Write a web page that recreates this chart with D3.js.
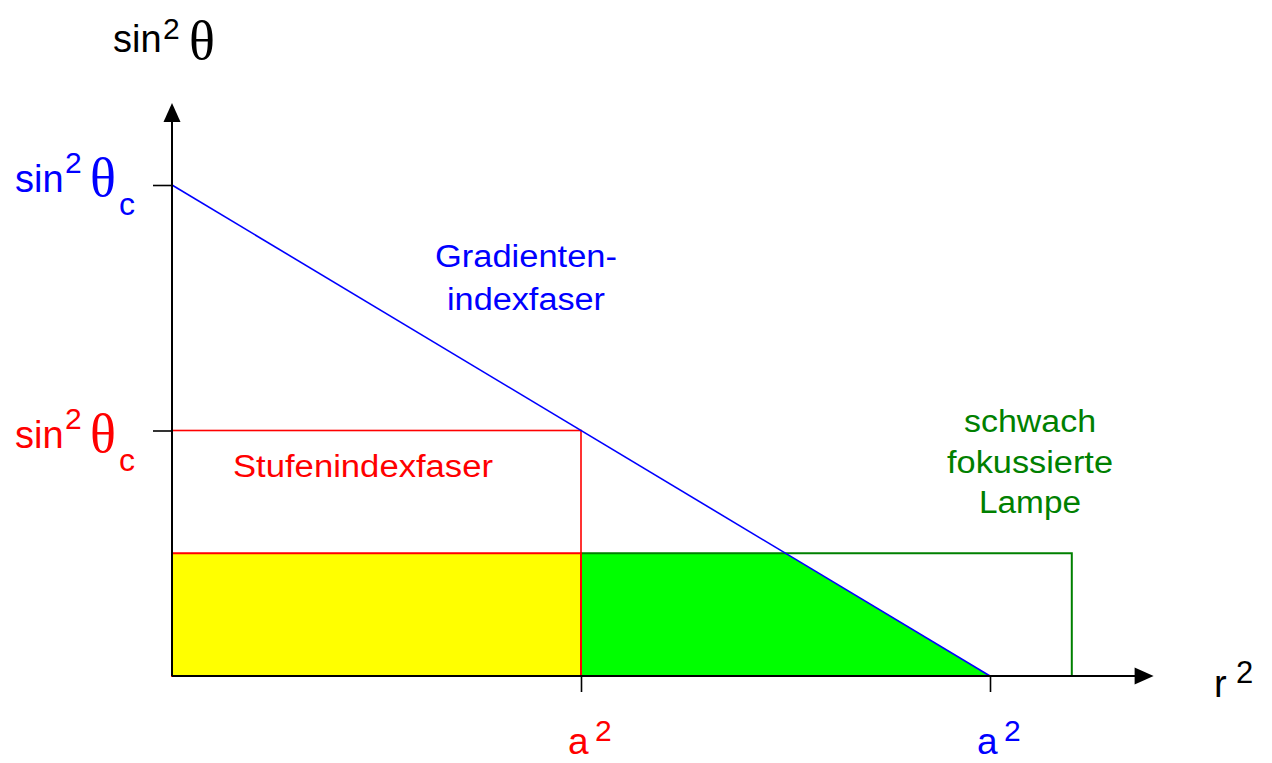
<!DOCTYPE html>
<html>
<head>
<meta charset="utf-8">
<script src="https://cdn.jsdelivr.net/npm/d3@7"></script>
<style>
  body { margin: 0; background: #fff; }
  svg { display: block; }
</style>
</head>
<body>
<script>
// values in normalized units: r^2 relative to a^2 of the graded fiber,
// sin^2 theta relative to sin^2 theta_c of the graded fiber
var gradCore = 1.0, gradNA = 1.0;     // Gradientenindexfaser
var stepCore = 0.5, stepNA = 0.5;     // Stufenindexfaser
var lampWidth = 1.1, lampNA = 0.25;   // schwach fokussierte Lampe
var gradLine = [[0, gradNA], [gradCore, 0]];
var xTickValues = [stepCore, gradCore];
var yTickValues = [stepNA, gradNA];

var sans = "'Liberation Sans', Arial, Helvetica, sans-serif";
var serif = "'Liberation Serif', 'Times New Roman', serif";

var W = 1272, H = 763;
var svg = d3.select("body").append("svg").attr("width", W).attr("height", H);

var x = d3.scaleLinear().domain([0, 1.2]).range([172, 1153.6]);
var y = d3.scaleLinear().domain([0, 1.167]).range([676, 103]);

// yellow region (step fiber accepts lamp light)
svg.append("rect")
  .attr("x", x(0)).attr("y", y(lampNA))
  .attr("width", x(stepCore) - x(0)).attr("height", y(0) - y(lampNA))
  .attr("fill", "#ffff00");

// green region: lamp light accepted by graded fiber beyond step core
var xCut = gradCore * (1 - lampNA / gradNA);
var greenPts = [[stepCore, 0], [stepCore, lampNA], [xCut, lampNA], [gradCore, 0]];
svg.append("path")
  .attr("d", d3.line().x(function(d) { return x(d[0]); }).y(function(d) { return y(d[1]); })(greenPts) + "Z")
  .attr("fill", "#00ff00");

// lamp outline
svg.append("rect")
  .attr("x", x(stepCore)).attr("y", y(lampNA))
  .attr("width", x(lampWidth) - x(stepCore)).attr("height", y(0) - y(lampNA))
  .attr("fill", "none").attr("stroke", "#008000").attr("stroke-width", 2);

// yellow border (red)
svg.append("rect")
  .attr("x", x(0)).attr("y", y(lampNA))
  .attr("width", x(stepCore) - x(0)).attr("height", y(0) - y(lampNA))
  .attr("fill", "none").attr("stroke", "#ff0000").attr("stroke-width", 2);

// step index fiber outline
svg.append("rect")
  .attr("x", x(0)).attr("y", y(stepNA))
  .attr("width", x(stepCore) - x(0)).attr("height", y(0) - y(stepNA))
  .attr("fill", "none").attr("stroke", "#ff0000").attr("stroke-width", 1.6);

// graded index line
svg.append("path")
  .attr("d", d3.line().x(function(d) { return x(d[0]); }).y(function(d) { return y(d[1]); })(gradLine))
  .attr("fill", "none").attr("stroke", "#0000ff").attr("stroke-width", 1.6);

// axes with ticks
var gx = svg.append("g").attr("transform", "translate(0," + y(0) + ")")
  .call(d3.axisBottom(x).tickValues(xTickValues).tickSize(16).tickFormat(""));
var gy = svg.append("g").attr("transform", "translate(" + x(0) + ",0)")
  .call(d3.axisLeft(y).tickValues(yTickValues).tickSize(19).tickFormat(""));
svg.selectAll(".domain").remove();
svg.selectAll(".tick line").attr("stroke", "#000").attr("stroke-width", 1.6);

var x0 = x(0), y0 = y(0), xEnd = x(1.2), yEnd = y(1.167);
svg.append("line").attr("x1", x0).attr("y1", y0).attr("x2", xEnd - 16).attr("y2", y0)
  .attr("stroke", "#000").attr("stroke-width", 2);
svg.append("line").attr("x1", x0).attr("y1", y0).attr("x2", x0).attr("y2", yEnd + 16)
  .attr("stroke", "#000").attr("stroke-width", 2);
svg.append("path")
  .attr("d", "M" + xEnd + "," + y0 + "L" + (xEnd - 19) + "," + (y0 - 8.5) + "L" + (xEnd - 19) + "," + (y0 + 8.5) + "Z")
  .attr("fill", "#000");
svg.append("path")
  .attr("d", "M" + x0 + "," + yEnd + "L" + (x0 - 8.5) + "," + (yEnd + 19) + "L" + (x0 + 8.5) + "," + (yEnd + 19) + "Z")
  .attr("fill", "#000");

// helper for composite labels
function part(g, txt, px, py, size, family, color) {
  g.append("text").attr("x", px).attr("y", py)
    .attr("font-family", family).attr("font-size", size)
    .attr("fill", color).text(txt);
}

// axis titles
var t = svg.append("g");
part(t, "sin", 113, 52, 38, sans, "#000");
part(t, "2", 163, 39, 30, sans, "#000");
part(t, "\u03b8", 189, 59, 54, serif, "#000");

part(t, "r", 1214, 697, 38, sans, "#000");
part(t, "2", 1236, 683, 31, sans, "#000");

// y tick labels
var yLabels = [
  { v: gradNA, color: "#0000ff", off: 7 },
  { v: stepNA, color: "#ff0000", off: 18 }
];
yLabels.forEach(function(d) {
  var b = y(d.v) + d.off;
  part(t, "sin", 15, b, 38, sans, d.color);
  part(t, "2", 65, b - 19, 30, sans, d.color);
  part(t, "\u03b8", 90, b + 4, 54, serif, d.color);
  part(t, "c", 119, b + 23, 32, sans, d.color);
});

// x tick labels
var xLabels = [
  { v: stepCore, color: "#ff0000" },
  { v: gradCore, color: "#0000ff" }
];
xLabels.forEach(function(d) {
  var px = x(d.v);
  part(t, "a", px - 13, 754, 37, sans, d.color);
  part(t, "2", px + 14, 741, 30, sans, d.color);
});

// annotations
var notes = [
  { lines: ["Gradienten-", "indexfaser"], widths: [182, 158], cx: 526, y0: 267, dy: 43, color: "#0000ff" },
  { lines: ["Stufenindexfaser"], widths: [260], cx: 363, y0: 477, dy: 0, color: "#ff0000" },
  { lines: ["schwach", "fokussierte", "Lampe"], widths: [132, 166, 102], cx: 1030, y0: 432, dy: 40.5, color: "#008000" }
];
notes.forEach(function(n) {
  n.lines.forEach(function(s, i) {
    svg.append("text")
      .attr("x", n.cx - n.widths[i] / 2).attr("y", n.y0 + i * n.dy)
      .attr("font-family", sans).attr("font-size", 31)
      .attr("textLength", n.widths[i]).attr("lengthAdjust", "spacingAndGlyphs")
      .attr("fill", n.color).text(s);
  });
});
</script>
</body>
</html>
